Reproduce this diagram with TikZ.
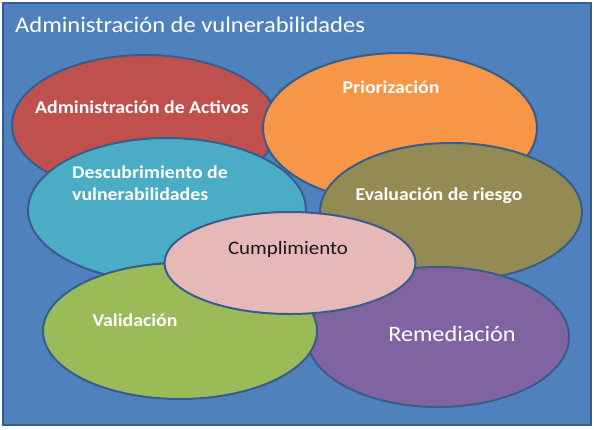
\documentclass[tikz,border=0pt]{standalone}
\usepackage{fontspec}
\setmainfont{Carlito}[FakeStretch=1.1]
\usetikzlibrary{shapes.geometric}
\definecolor{bgblue}{HTML}{4F81BD}
\definecolor{edgeblue}{HTML}{385D8A}
\definecolor{vred}{HTML}{C0504D}
\definecolor{vorange}{HTML}{F79646}
\definecolor{vcyan}{HTML}{4BACC6}
\definecolor{volive}{HTML}{948A54}
\definecolor{vgreen}{HTML}{9BBB59}
\definecolor{vpurple}{HTML}{8064A2}
\definecolor{vpink}{HTML}{E6B9B8}
\begin{document}
\begin{tikzpicture}[x=1pt,y=-1pt,
    blob/.style={ellipse,draw=edgeblue,line width=2pt,inner sep=0pt},
    lbl/.style={text=white,font=\bfseries\fontsize{18}{21.6}\selectfont,anchor=base,inner sep=0pt}]
      \useasboundingbox (0,0) rectangle (594,429);
      \draw[fill=bgblue,draw=edgeblue,line width=1.8pt] (3,3) rectangle (591,425);
      \node[text=white,font=\fontsize{22.3}{26}\selectfont,anchor=base west,inner sep=0pt] (title) at (15,32) {Administración de vulnerabilidades};
      \node[blob,fill=vred,minimum width=266pt,minimum height=140pt] (Activos) at (145,125) {};
      \node[blob,fill=vorange,minimum width=274pt,minimum height=150pt] (Prior) at (400,128) {};
      \node[blob,fill=vcyan,minimum width=278pt,minimum height=144pt] (Descub) at (167,210) {};
      \node[blob,fill=volive,minimum width=262pt,minimum height=138pt] (Riesgo) at (451,212) {};
      \node[blob,fill=vpurple,minimum width=262pt,minimum height=140pt] (Remed) at (438,337) {};
      \node[blob,fill=vgreen,minimum width=274pt,minimum height=136pt] (Valid) at (180,331) {};
      \node[blob,fill=vpink,minimum width=251pt,minimum height=102pt] (Cumpl) at (290,263) {};
      \node[lbl] (ActivosT) at (142,113) {Administración de Activos};
      \node[lbl] (PriorT) at (391,93) {Priorización};
      \node[lbl,anchor=base west,align=left] (DescubT) at (72,200) {Descubrimiento de\\vulnerabilidades};
      \node[lbl] (RiesgoT) at (439,200) {Evaluación de riesgo};
      \node[lbl,text=black!90,font=\fontsize{19}{23}\selectfont] (CumplT) at (288,254) {Cumplimiento};
      \node[lbl] (ValidT) at (135,326) {Validación};
      \node[lbl,font=\fontsize{22}{26}\selectfont] (RemedT) at (452,341) {Remediación};
\end{tikzpicture}
\end{document}
